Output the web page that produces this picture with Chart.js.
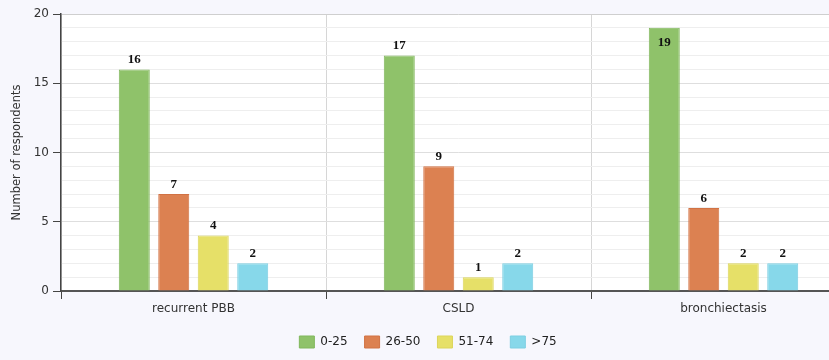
<!DOCTYPE html>
<html lang="en">
<head>
  <meta charset="UTF-8" />
  <title>Number of respondents by condition</title>
  <script src="https://cdn.jsdelivr.net/npm/chart.js"></script>
  <style>
    html, body { margin:0; padding:0; background:#f7f7fd; overflow:hidden; }
    #wrap { width:829px; height:360px; overflow:hidden; }
  </style>
</head>
<body>
<div id="wrap"><canvas id="chart" width="860" height="360"></canvas></div>

<script>
/* ====== data ====== */
const categories = ['recurrent PBB', 'CSLD', 'bronchiectasis'];
const groups     = ['0-25', '26-50', '51-74', '>75'];
const vals0_25   = [16, 17, 19];
const vals26_50  = [7, 9, 6];
const vals51_74  = [4, 1, 2];
const valsOver75 = [2, 2, 2];
const yTicks     = [0, 5, 10, 15, 20];

const fills   = ['#8fc26a', '#dc8151', '#e6e068', '#87d8ea'];
const borders = ['#80b75c', '#d17244', '#dcd55a', '#7ccfe2'];

/* background: lavender outside, white plot */
const bgPlugin = {
  id:'bg',
  beforeDraw(c){
    const {ctx, chartArea:a} = c;
    ctx.save();
    ctx.fillStyle = '#f7f7fd';
    ctx.fillRect(0, 0, c.width, c.height);
    ctx.fillStyle = '#ffffff';
    ctx.fillRect(a.left, a.top, a.right - a.left, a.bottom - a.top);
    ctx.restore();
  }
};

/* value labels above bars (inside when no room) */
const labelPlugin = {
  id:'vals',
  afterDatasetsDraw(c){
    const {ctx, chartArea:a} = c;
    ctx.save();
    ctx.font = 'bold 13px "Liberation Serif", "Times New Roman", serif';
    ctx.fillStyle = '#111';
    ctx.textAlign = 'center';
    c.data.datasets.forEach((ds, i) => {
      c.getDatasetMeta(i).data.forEach((bar, j) => {
        const txt = String(ds.data[j]);
        if (bar.y - 20 < a.top) {
          ctx.textBaseline = 'top';
          ctx.fillText(txt, bar.x, bar.y + 8);
        } else {
          ctx.textBaseline = 'bottom';
          ctx.fillText(txt, bar.x, bar.y - 3);
        }
      });
    });
    ctx.restore();
  }
};

const sets = [vals0_25, vals26_50, vals51_74, valsOver75];

new Chart(document.getElementById('chart'), {
  type:'bar',
  data:{
    labels: categories,
    datasets: groups.map((g, i) => ({
      label: g,
      data: sets[i],
      backgroundColor: fills[i],
      borderColor: borders[i],
      borderWidth: 1,
      categoryPercentage: 0.596,
      barPercentage: 0.785
    }))
  },
  options:{
    responsive:false,
    animation:false,
    layout:{ padding:{ top:14, right:4, left:0, bottom:2 } },
    scales:{
      x:{
        grid:{ offset:true, color:'#d6d6d6', lineWidth:1, tickColor:'#444', tickLength:8 },
        border:{ color:'#555', width:2 },
        ticks:{ color:'#333', padding:3, font:{ family:'"DejaVu Sans", sans-serif', size:12 } },
        afterFit: s => { s.height = 28; }
      },
      y:{
        min:0, max:20,
        afterBuildTicks: s => {
          s.ticks = [];
          for (let v = 0; v <= 20; v++) s.ticks.push({ value:v });
        },
        grid:{
          color: ctx => ctx.tick && ctx.tick.value === 20 ? '#cfcfcf' : (ctx.tick && ctx.tick.value % 5 === 0 ? '#dedede' : '#eeeeee'),
          lineWidth: 1,
          tickColor: ctx => ctx.tick && ctx.tick.value % 5 === 0 ? '#444' : 'rgba(0,0,0,0)',
          tickLength: 8
        },
        border:{ color:'#444', width:1.5 },
        ticks:{
          autoSkip:false,
          color:'#333', padding:4,
          font:{ family:'"DejaVu Sans", sans-serif', size:12 },
          callback: v => yTicks.includes(v) ? v : ''
        },
        title:{ display:true, text:'Number of respondents', color:'#333',
                font:{ family:'"DejaVu Sans", sans-serif', size:11.5 }, padding:{ top:10, bottom:4 } },
        afterFit: s => { s.width = 61; }
      }
    },
    plugins:{
      legend:{
        position:'bottom',
        labels:{ boxWidth:15, boxHeight:12, padding:17, color:'#222',
                 font:{ family:'"DejaVu Sans", sans-serif', size:12 } }
      },
      tooltip:{ enabled:false }
    }
  },
  plugins:[bgPlugin, labelPlugin]
});
</script>
</body>
</html>
